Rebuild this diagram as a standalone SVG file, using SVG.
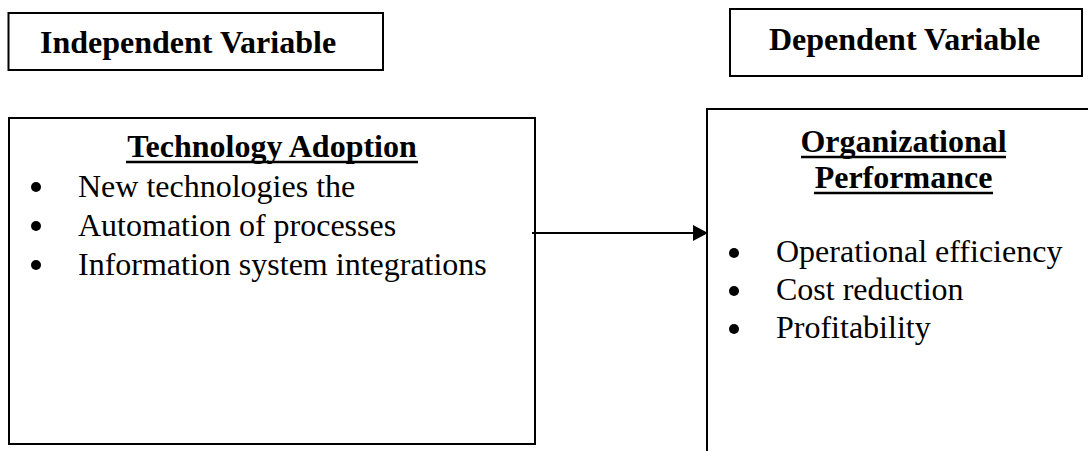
<svg xmlns="http://www.w3.org/2000/svg" width="1088" height="451" viewBox="0 0 1088 451">
  <defs>
    <style>
      .box { fill: #ffffff; stroke: #000000; stroke-width: 2; }
      .head { font-family: "Liberation Serif", "Times New Roman", serif; font-size: 32px; font-weight: bold; fill: #000000; }
      .item { font-family: "Liberation Serif", "Times New Roman", serif; font-size: 32px; fill: #000000; }
      .ul { stroke: #000000; stroke-width: 2.5; }
      .dot { fill: #000000; }
      .wire { stroke: #000000; stroke-width: 2; fill: none; }
    </style>
    <marker id="arrowhead" markerWidth="16" markerHeight="18" refX="15" refY="9" orient="auto" markerUnits="userSpaceOnUse">
      <path d="M0,1 L15,9 L0,17 Z" fill="#000000"/>
    </marker>
  </defs>

  <rect width="1088" height="451" fill="#ffffff"/>

  <!-- Label: independent variable -->
  <g id="label-independent">
    <rect class="box" x="8.5" y="13" width="374.5" height="57"/>
    <text class="head" x="40" y="53">Independent Variable</text>
  </g>

  <!-- Label: dependent variable -->
  <g id="label-dependent">
    <rect class="box" x="730" y="9" width="352" height="67"/>
    <text class="head" x="769" y="50">Dependent Variable</text>
  </g>

  <!-- Node: technology adoption -->
  <g id="node-technology-adoption">
    <rect class="box" x="9" y="118" width="526" height="326"/>
    <text class="head" x="272" y="157" text-anchor="middle">Technology Adoption</text>
    <line class="ul" x1="126" y1="162" x2="418" y2="162"/>
    <circle class="dot" cx="36" cy="187" r="5"/>
    <text class="item" x="78" y="197">New technologies the</text>
    <circle class="dot" cx="36" cy="226" r="5"/>
    <text class="item" x="78" y="236">Automation of processes</text>
    <circle class="dot" cx="36" cy="265" r="5"/>
    <text class="item" x="78" y="275">Information system integrations</text>
  </g>

  <!-- Node: organizational performance (runs past the right and bottom edges) -->
  <g id="node-organizational-performance">
    <rect class="box" x="707" y="109" width="420" height="400"/>
    <text class="head" x="903.5" y="152" text-anchor="middle">Organizational</text>
    <line class="ul" x1="801" y1="157" x2="1006" y2="157"/>
    <text class="head" x="903.5" y="188" text-anchor="middle">Performance</text>
    <line class="ul" x1="814" y1="193" x2="993" y2="193"/>
    <circle class="dot" cx="734" cy="253" r="5"/>
    <text class="item" x="776" y="262">Operational efficiency</text>
    <circle class="dot" cx="734" cy="291" r="5"/>
    <text class="item" x="776" y="300">Cost reduction</text>
    <circle class="dot" cx="734" cy="329" r="5"/>
    <text class="item" x="776" y="338">Profitability</text>
  </g>

  <!-- Connectors -->
  <g id="connectors">
    <line class="wire" x1="532" y1="233" x2="708" y2="233" marker-end="url(#arrowhead)"/>
  </g>
</svg>
